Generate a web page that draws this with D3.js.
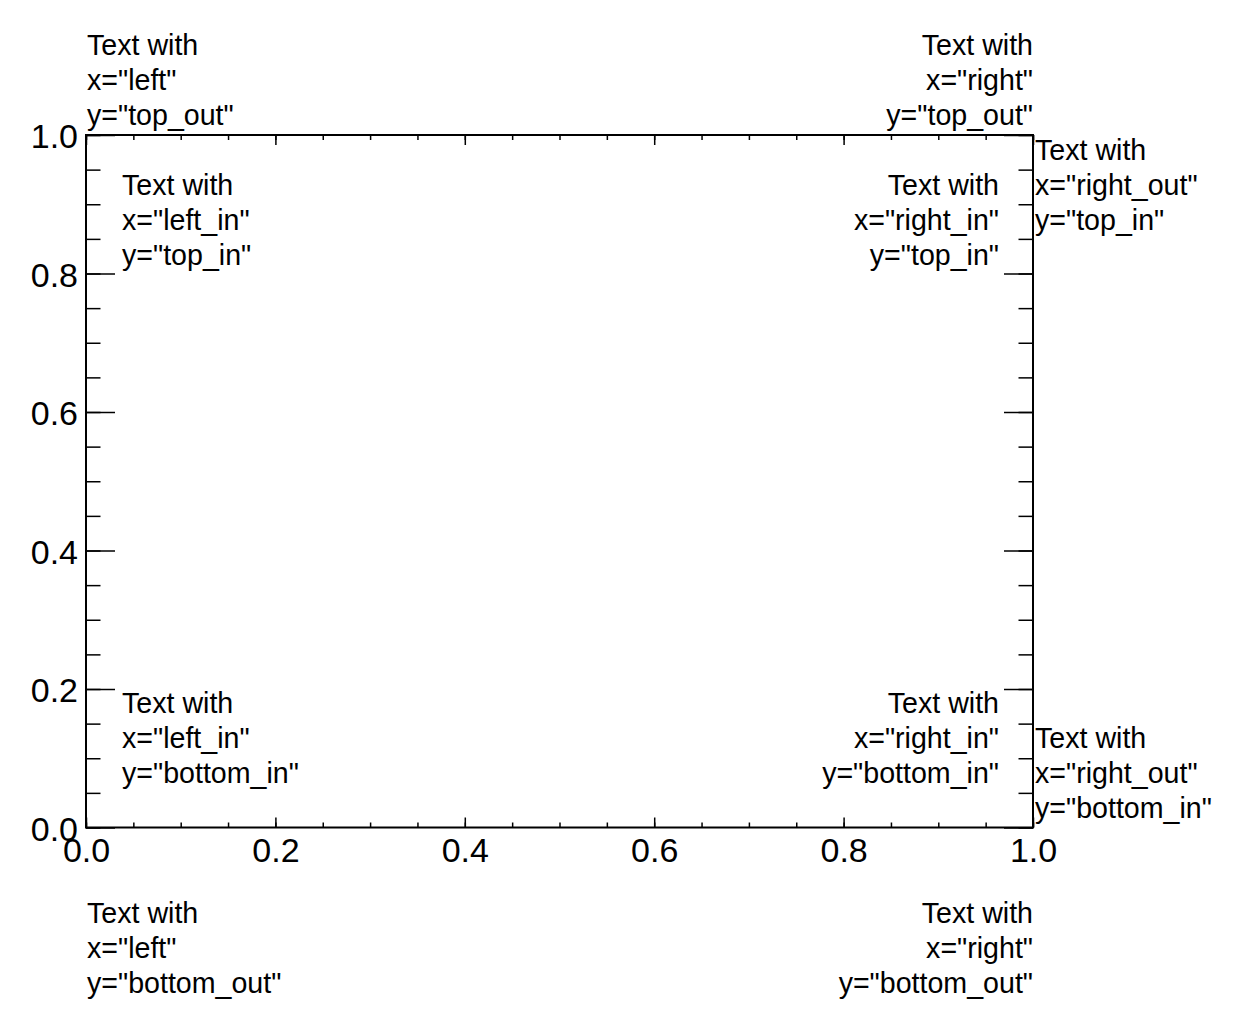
<!DOCTYPE html>
<html>
<head>
<meta charset="utf-8">
<script src="https://cdn.jsdelivr.net/npm/d3@7"></script>
<style>
    html, body { margin: 0; padding: 0; background: #fff; }
    svg { display: block; }
    text { font-family: "Liberation Sans", Arial, Helvetica, sans-serif; fill: #000; }
</style>
</head>
<body>
<svg id="chart" width="1241" height="1032"></svg>
<script>
// =========================================================================
// Data
// =========================================================================

const xDomain = [0, 1];
const yDomain = [0, 1];
const xMajorTicks = [0.0, 0.2, 0.4, 0.6, 0.8, 1.0];
const yMajorTicks = [0.0, 0.2, 0.4, 0.6, 0.8, 1.0];
const minorTickCount = 20;

// text annotations, named by their x / y placement keyword
const annotationX = ['left', 'right', 'left_in', 'right_in', 'right_out', 'left_in', 'right_in', 'right_out', 'left', 'right'];
const annotationY = ['top_out', 'top_out', 'top_in', 'top_in', 'top_in', 'bottom_in', 'bottom_in', 'bottom_in', 'bottom_out', 'bottom_out'];

// =========================================================================
// Layout
// =========================================================================

const frame = { left: 86, top: 135, right: 1033, bottom: 827.5 };
const lineHeight = 35;
const textSize = 28.6;
const tickLabelSize = 34;

const svg = d3.select('#chart');

const x = d3.scaleLinear().domain(xDomain).range([frame.left, frame.right]);
const y = d3.scaleLinear().domain(yDomain).range([frame.bottom, frame.top]);

const fmt = d3.format('.1f');

function styleAxis(g) {
    g.select('.domain').remove();
    g.selectAll('line').attr('stroke', '#000').attr('stroke-width', 1.5);
}

// minor ticks on all four sides (inward)
svg.append('g').attr('transform', `translate(0,${frame.bottom})`)
    .call(d3.axisBottom(x).ticks(minorTickCount).tickSize(-5).tickFormat(''))
    .call(styleAxis);
svg.append('g').attr('transform', `translate(0,${frame.top})`)
    .call(d3.axisTop(x).ticks(minorTickCount).tickSize(-5).tickFormat(''))
    .call(styleAxis);
svg.append('g').attr('transform', `translate(${frame.left},0)`)
    .call(d3.axisLeft(y).ticks(minorTickCount).tickSize(-14.5).tickFormat(''))
    .call(styleAxis);
svg.append('g').attr('transform', `translate(${frame.right},0)`)
    .call(d3.axisRight(y).ticks(minorTickCount).tickSize(-14.5).tickFormat(''))
    .call(styleAxis);

// major ticks
const bottomAxis = svg.append('g').attr('transform', `translate(0,${frame.bottom})`)
    .call(d3.axisBottom(x).tickValues(xMajorTicks).tickSize(-10).tickPadding(10.5).tickFormat(fmt))
    .call(styleAxis);
svg.append('g').attr('transform', `translate(0,${frame.top})`)
    .call(d3.axisTop(x).tickValues(xMajorTicks).tickSize(-10).tickFormat(''))
    .call(styleAxis);
const leftAxis = svg.append('g').attr('transform', `translate(${frame.left},0)`)
    .call(d3.axisLeft(y).tickValues(yMajorTicks).tickSize(-29).tickPadding(8).tickFormat(fmt))
    .call(styleAxis);
svg.append('g').attr('transform', `translate(${frame.right},0)`)
    .call(d3.axisRight(y).tickValues(yMajorTicks).tickSize(-29).tickFormat(''))
    .call(styleAxis);

[bottomAxis, leftAxis].forEach(g => {
    g.selectAll('text')
        .attr('fill', '#000')
        .style('font-family', '"Liberation Sans", Arial, sans-serif')
        .style('font-size', tickLabelSize + 'px');
});
leftAxis.selectAll('text').attr('dy', '0.38em');

// frame
svg.append('rect')
    .attr('x', frame.left)
    .attr('y', frame.top)
    .attr('width', frame.right - frame.left)
    .attr('height', frame.bottom - frame.top)
    .attr('fill', 'none')
    .attr('stroke', '#000')
    .attr('stroke-width', 2);

// =========================================================================
// Annotations
// =========================================================================

function placeX(key) {
    switch (key) {
        case 'left': return { x: frame.left + 1, anchor: 'start' };
        case 'right': return { x: frame.right, anchor: 'end' };
        case 'left_in': return { x: frame.left + 36, anchor: 'start' };
        case 'right_in': return { x: frame.right - 34, anchor: 'end' };
        case 'right_out': return { x: frame.right + 2, anchor: 'start' };
    }
}

// returns the baseline of the first of the lines
function placeY(key, xKey, nLines) {
    const inside = xKey.endsWith('_in');
    const span = (nLines - 1) * lineHeight;
    switch (key) {
        case 'top_out': return frame.top - 10 - span;
        case 'bottom_out': return frame.bottom + 95.5;
        case 'top_in': return frame.top + (inside ? 60 : 25);
        case 'bottom_in': return frame.bottom - (inside ? 44.5 : 9.5) - span;
    }
}

annotationX.forEach((xKey, i) => {
    const yKey = annotationY[i];
    const lines = ['Text with', `x="${xKey}"`, `y="${yKey}"`];
    const px = placeX(xKey);
    const y0 = placeY(yKey, xKey, lines.length);

    const t = svg.append('text')
        .attr('text-anchor', px.anchor)
        .style('font-size', textSize + 'px');
    lines.forEach((line, j) => {
        t.append('tspan')
            .attr('x', px.x)
            .attr('y', y0 + j * lineHeight)
            .text(line);
    });
});
</script>
</body>
</html>
